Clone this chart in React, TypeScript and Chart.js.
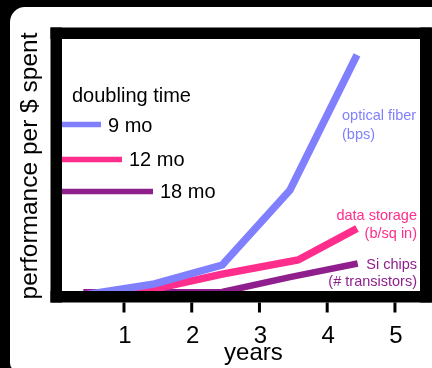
import React, { useEffect, useRef } from "react";
import { Chart, registerables } from "chart.js";

Chart.register(...registerables);

// x positions are in years, y values in relative performance units (0..100)
const yearTicks = [1, 2, 3, 4, 5];

const fiberX = [0.4, 1.45, 2.45, 3.45, 4.44];
const fiberY = [-1.6, 2.8, 10.3, 40, 93.7];

const storageX = [0.4, 1.45, 2.45, 3.57, 4.44];
const storageY = [-1.5, 0.8, 6.7, 12.3, 24.8];

const chipsX = [0.4, 1.45, 2.45, 3.45, 4.45];
const chipsY = [-0.5, -0.5, -0.4, 5.5, 10.9];

const seriesNames = ["optical fiber", "data storage", "Si chips"];
const seriesUnits = ["(bps)", "(b/sq in)", "(# transistors)"];
const doublingLabels = ["9 mo", "12 mo", "18 mo"];

const BLUE = "#8080ff";
const PINK = "#ff2d8c";
const PURPLE = "#8e1f8c";
const FONT = '"Liberation Sans", Arial, Helvetica, sans-serif';

const toPoints = (xs: number[], ys: number[]) => xs.map((x, i) => ({ x, y: ys[i] }));

const framePlugin = {
  id: "frame",
  beforeDraw(chart: any) {
    const { ctx, width, height } = chart;
    ctx.save();
    ctx.fillStyle = "#000";
    ctx.fillRect(0, 0, width, height);
    ctx.fillStyle = "#fff";
    ctx.beginPath();
    ctx.roundRect(10, 7, 430, 364, [15, 6, 0, 8]);
    ctx.fill();
    ctx.restore();
  },
  afterDatasetsDraw(chart: any) {
    const { ctx, chartArea: ca, scales } = chart;
    const xs = scales.x;
    const B = 11.5;
    ctx.save();

    // thick plot frame
    ctx.fillStyle = "#000";
    ctx.fillRect(ca.left - B, ca.top - B, B, ca.bottom - ca.top + 2 * B);
    ctx.fillRect(ca.left - B, ca.top - B, ca.right - ca.left + 2 * B, B);
    ctx.fillRect(ca.right, ca.top - B, B + 2, ca.bottom - ca.top + 2 * B);
    ctx.fillRect(ca.left - B, ca.bottom, ca.right - ca.left + 2 * B, B);

    // x ticks and labels
    ctx.strokeStyle = "#000";
    ctx.lineWidth = 3;
    ctx.font = `24px ${FONT}`;
    ctx.textAlign = "center";
    ctx.textBaseline = "alphabetic";
    ctx.fillStyle = "#000";
    yearTicks.forEach((t) => {
      const px = xs.getPixelForValue(t);
      ctx.beginPath();
      ctx.moveTo(px, ca.bottom + B);
      ctx.lineTo(px, ca.bottom + B + 10);
      ctx.stroke();
      ctx.fillText(String(t), px + 1, ca.bottom + 52);
    });

    // axis titles
    ctx.fillText("years", xs.getPixelForValue(3) - 6, ca.bottom + 69);
    ctx.save();
    ctx.font = `24.5px ${FONT}`;
    ctx.translate(37, (ca.top + ca.bottom) / 2 + 1);
    ctx.rotate(-Math.PI / 2);
    ctx.fillText("performance per $ spent", 0, 0);
    ctx.restore();

    // doubling-time key
    ctx.textAlign = "left";
    ctx.font = `20px ${FONT}`;
    ctx.fillText("doubling time", ca.left + 10, 101.5);
    const keyColors = [BLUE, PINK, PURPLE];
    const keyLens = [39, 60, 91];
    const keyY = [124.5, 159.5, 191.5];
    const textY = [132, 166, 198];
    ctx.lineWidth = 5.5;
    keyColors.forEach((c, i) => {
      ctx.strokeStyle = c;
      ctx.beginPath();
      ctx.moveTo(ca.left, keyY[i]);
      ctx.lineTo(ca.left + keyLens[i], keyY[i]);
      ctx.stroke();
      ctx.fillStyle = "#000";
      ctx.fillText(doublingLabels[i], ca.left + keyLens[i] + 7, textY[i]);
    });

    // series annotations
    ctx.font = `14.5px ${FONT}`;
    ctx.fillStyle = BLUE;
    ctx.textAlign = "left";
    ctx.fillText(seriesNames[0], 342, 120);
    ctx.fillText(seriesUnits[0], 342, 139);
    ctx.textAlign = "right";
    ctx.fillStyle = PINK;
    ctx.fillText(seriesNames[1], 417, 220);
    ctx.fillText(seriesUnits[1], 417, 237.5);
    ctx.fillStyle = PURPLE;
    ctx.fillText(seriesNames[2], 417, 268.5);
    ctx.fillText(seriesUnits[2], 417, 285.5);

    ctx.restore();
  },
};

export default function App() {
  const canvasRef = useRef<HTMLCanvasElement | null>(null);

  useEffect(() => {
    if (!canvasRef.current) return;
    const chart = new Chart(canvasRef.current, {
      type: "line",
      data: {
        datasets: [
          { label: seriesNames[0], data: toPoints(fiberX, fiberY), borderColor: BLUE, borderWidth: 7.5 },
          { label: seriesNames[1], data: toPoints(storageX, storageY), borderColor: PINK, borderWidth: 7.5 },
          { label: seriesNames[2], data: toPoints(chipsX, chipsY), borderColor: PURPLE, borderWidth: 6.5 },
        ].map((d) => ({
          ...d,
          pointRadius: 0,
          tension: 0,
          fill: false,
          borderCapStyle: "butt" as const,
          borderJoinStyle: "miter" as const,
        })),
      },
      options: {
        responsive: false,
        animation: false,
        devicePixelRatio: 1,
        layout: { padding: { left: 62, top: 39, right: 12, bottom: 77 } },
        plugins: { legend: { display: false }, tooltip: { enabled: false } },
        scales: {
          x: { type: "linear", min: 0.085, max: 5.37, display: false },
          y: { type: "linear", min: 0, max: 100, display: false },
        },
      },
      plugins: [framePlugin],
    });
    return () => chart.destroy();
  }, []);

  return (
    <div style={{ position: "fixed", left: 0, top: 0, width: 432, height: 368, background: "#000" }}>
      <canvas ref={canvasRef} width={432} height={368} style={{ display: "block" }} />
    </div>
  );
}
